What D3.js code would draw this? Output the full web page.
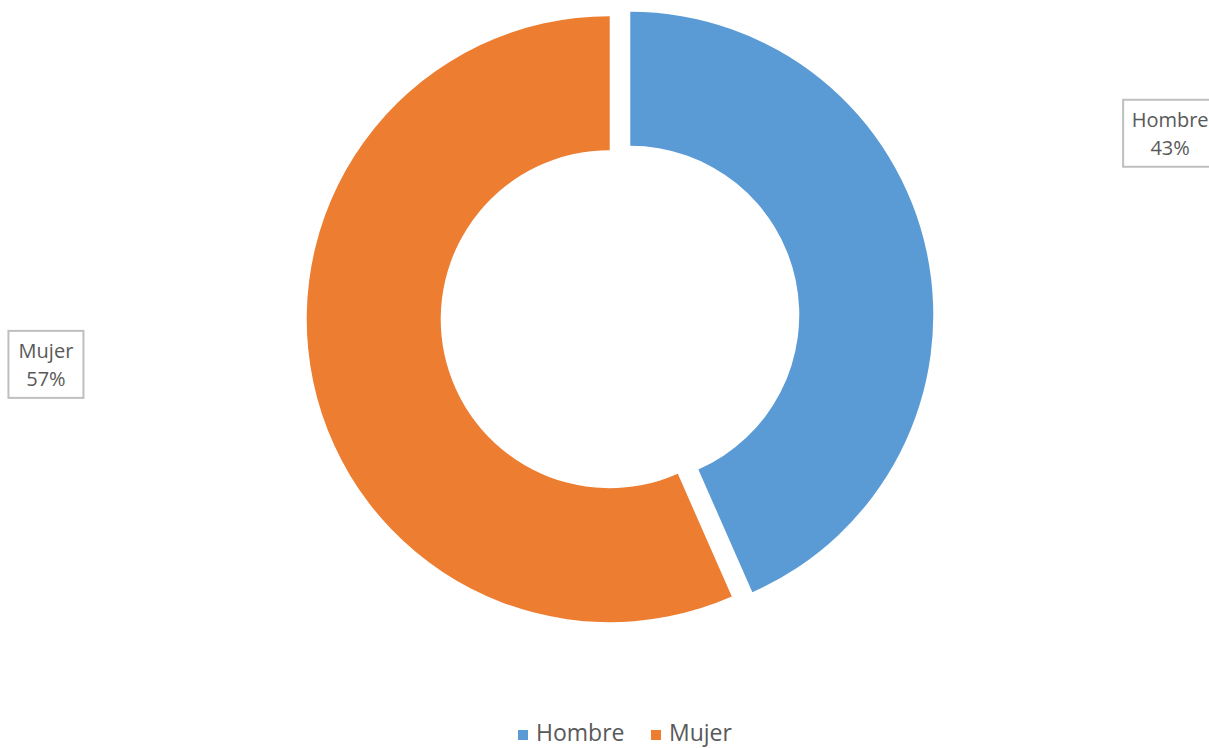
<!DOCTYPE html>
<html>
<head>
<meta charset="utf-8">
<script src="https://cdn.jsdelivr.net/npm/d3@7"></script>
<style>
  body { margin: 0; background: #fff; }
  text { font-family: "Open Sans", "Noto Sans", sans-serif; fill: #595959; }
</style>
</head>
<body>
<div id="chart"></div>
<script>
// Data
const categories = ['Hombre', 'Mujer'];
const values = [43.4, 56.6];
const percentLabels = ['43%', '57%'];
const colors = ['#5B9BD5', '#ED7D31'];

const width = 1209;
const height = 748;
const cx = 620, cy = 317;
const outerR = 303, innerR = 169;
const explode = 10.5;

const svg = d3.select('#chart')
  .append('svg')
  .attr('width', width)
  .attr('height', height);

const data = categories.map((c, i) => ({ name: c, value: values[i], label: percentLabels[i], color: colors[i] }));

const pie = d3.pie().sort(null).value(d => d.value);
const arcs = pie(data);
const arc = d3.arc().innerRadius(innerR).outerRadius(outerR);

const g = svg.append('g').attr('transform', `translate(${cx},${cy})`);

// Slices, each pushed out along its bisector
g.selectAll('path.slice')
  .data(arcs)
  .enter()
  .append('path')
  .attr('class', 'slice')
  .attr('d', arc)
  .attr('fill', d => d.data.color)
  .attr('transform', d => {
    const a = (d.startAngle + d.endAngle) / 2;
    return `translate(${Math.sin(a) * explode},${-Math.cos(a) * explode})`;
  });

// Data labels in boxes
const labelR = [580, 576];
const nudge = [-0.115, 0.125];
const boxW = [94, 75], boxH = 67;
const lbl = g.selectAll('g.lbl')
  .data(arcs)
  .enter()
  .append('g')
  .attr('class', 'lbl')
  .attr('transform', (d, i) => {
    const a = (d.startAngle + d.endAngle) / 2 + nudge[i];
    return `translate(${Math.sin(a) * labelR[i]},${-Math.cos(a) * labelR[i]})`;
  });

lbl.append('rect')
  .attr('x', (d, i) => -boxW[i] / 2)
  .attr('y', -boxH / 2)
  .attr('width', (d, i) => boxW[i])
  .attr('height', boxH)
  .attr('fill', '#fff')
  .attr('stroke', '#BFBFBF')
  .attr('stroke-width', 2);

lbl.append('text')
  .attr('text-anchor', 'middle')
  .attr('y', -6)
  .style('font-size', '20px')
  .text(d => d.data.name);

lbl.append('text')
  .attr('text-anchor', 'middle')
  .attr('y', 22)
  .style('font-size', '20px')
  .text(d => d.data.label);

// Legend
const legend = svg.append('g').attr('transform', 'translate(518,734)');
const legendX = d3.scaleOrdinal().domain(categories).range([0, 133]);
const item = legend.selectAll('g.item')
  .data(data)
  .enter()
  .append('g')
  .attr('class', 'item')
  .attr('transform', d => `translate(${legendX(d.name)},0)`);

item.append('rect')
  .attr('x', 0)
  .attr('y', -4)
  .attr('width', 10)
  .attr('height', 10)
  .attr('fill', d => d.color);

item.append('text')
  .attr('x', 18)
  .attr('y', 7)
  .style('font-size', '23px')
  .text(d => d.name);
</script>
</body>
</html>
